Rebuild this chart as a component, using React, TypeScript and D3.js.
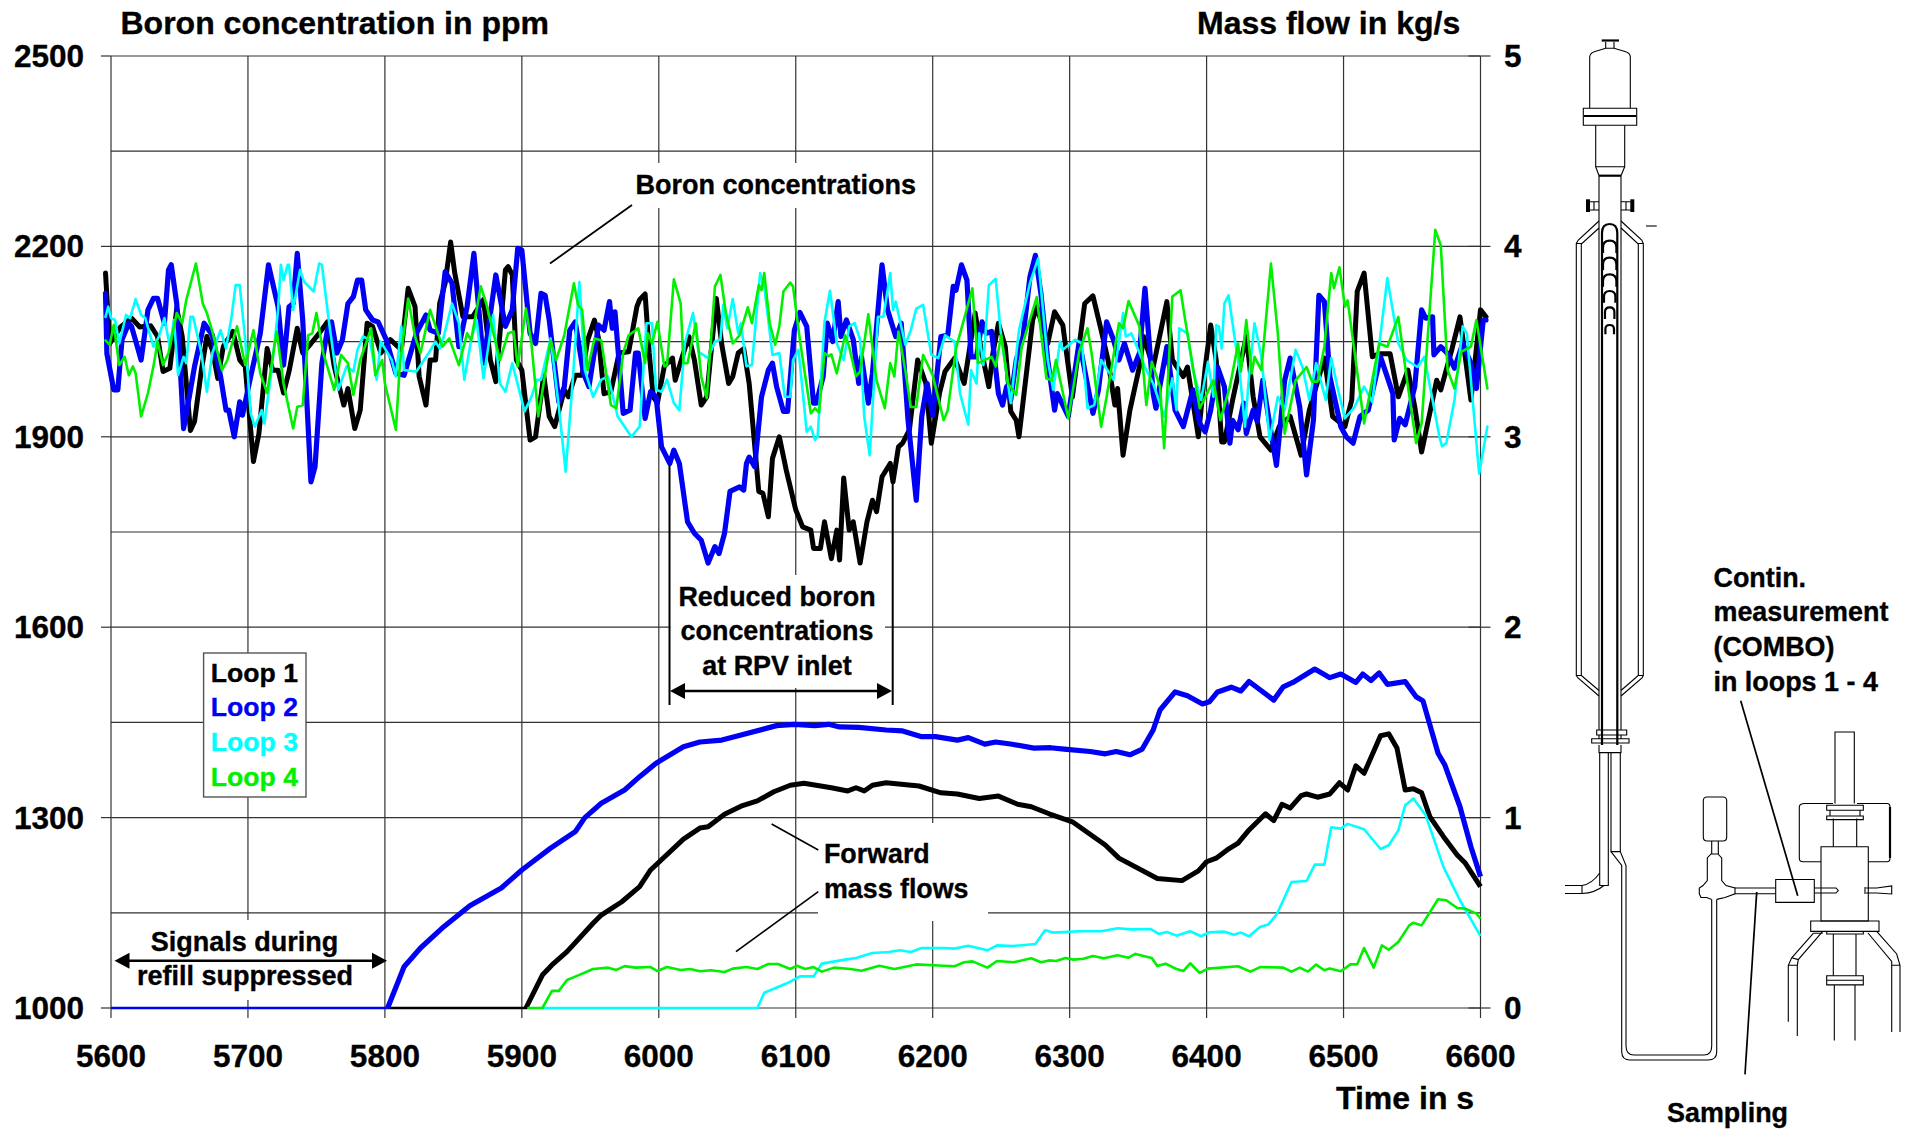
import { useEffect, useRef } from 'react';
import * as d3 from 'd3';

type Pt = [number, number];

const WIDTH = 1912;
const HEIGHT = 1130;
const PLOT = { left: 111, right: 1480.5, top: 56, bottom: 1008 };

const timeTicks = [5600, 5700, 5800, 5900, 6000, 6100, 6200, 6300, 6400, 6500, 6600];
const boronTicks = [1000, 1300, 1600, 1900, 2200, 2500];
const boronGrid = [1000, 1150, 1300, 1450, 1600, 1750, 1900, 2050, 2200, 2350, 2500];
const flowTicks = [0, 1, 2, 3, 4, 5];
const loopNames = ['Loop 1', 'Loop 2', 'Loop 3', 'Loop 4'];
const loopColors = ['#000000', '#0000f5', '#00ffff', '#00f000'];
const loopWidths = [5, 5.2, 2.6, 2.6];

// boron concentration, [time s, ppm]
const boron1: Pt[] = [[5596,2158],[5599,2047],[5607,2073],[5615,2087],[5621,2073],[5629,2075],[5634,2058],[5638,2003],[5643,2008],[5648,2102],[5652,2058],[5658,1910],[5661,1924],[5666,2005],[5670,2058],[5674,2037],[5678,1992],[5682,2042],[5689,2066],[5694,2021],[5698,2011],[5704,1861],[5708,1905],[5714,2039],[5718,2005],[5722,2005],[5726,1969],[5730,2003],[5736,2071],[5740,2032],[5746,2047],[5752,2063],[5758,2081],[5763,2011],[5770,1950],[5773,1976],[5778,1913],[5782,1942],[5787,2079],[5791,2074],[5797,2032],[5804,2053],[5808,2045],[5812,2037],[5817,2134],[5822,2105],[5825,1995],[5830,1950],[5833,2021],[5837,2021],[5840,2110],[5844,2142],[5848,2207],[5851,2158],[5857,2089],[5864,2089],[5872,2116],[5877,2021],[5881,1987],[5888,2163],[5890,2168],[5893,2155],[5896,2021],[5900,2005],[5906,1895],[5910,1900],[5916,1997],[5920,1932],[5924,1916],[5931,1974],[5934,1963],[5939,1997],[5944,1997],[5948,2052],[5953,2084],[5956,2055],[5960,1968],[5965,1971],[5971,2032],[5978,2034],[5984,2105],[5986,2116],[5990,2125],[5993,2032],[5996,1963],[5999,1953],[6004,2011],[6010,2024],[6012,1989],[6018,2032],[6022,2058],[6026,2021],[6031,1950],[6035,1963],[6042,2118],[6046,2045],[6051,1984],[6054,1995],[6058,2032],[6062,2039],[6066,1984],[6073,1814],[6076,1811],[6080,1774],[6083,1866],[6088,1900],[6093,1848],[6100,1785],[6105,1758],[6111,1753],[6113,1724],[6118,1724],[6121,1766],[6126,1708],[6130,1753],[6132,1706],[6135,1835],[6139,1753],[6142,1766],[6147,1701],[6152,1766],[6156,1800],[6159,1782],[6163,1837],[6169,1858],[6171,1829],[6175,1884],[6178,1890],[6183,1911],[6189,2021],[6195,1984],[6199,1890],[6205,1969],[6209,2003],[6216,2024],[6223,1984],[6231,2095],[6235,2042],[6241,1979],[6244,2032],[6248,2079],[6253,2042],[6257,1940],[6261,1926],[6263,1900],[6273,2084],[6276,2105],[6284,2047],[6289,2097],[6295,2076],[6302,1963],[6311,2110],[6317,2122],[6323,2068],[6328,2021],[6333,1950],[6335,1976],[6339,1871],[6344,1942],[6351,2011],[6354,2058],[6361,2010],[6371,2113],[6375,2021],[6383,1995],[6386,2010],[6394,1900],[6399,2010],[6403,2076],[6407,2021],[6411,1892],[6413,1892],[6419,1958],[6429,2058],[6434,1963],[6439,1900],[6447,1879],[6453,1916],[6461,1932],[6469,1871],[6475,1942],[6486,2024],[6492,1932],[6501,1916],[6506,1958],[6510,2129],[6515,2158],[6521,2026],[6526,2031],[6534,2031],[6540,1963],[6547,2005],[6552,1947],[6557,1876],[6568,1989],[6571,1974],[6579,2037],[6585,2089],[6593,1958],[6600,2100],[6604,2089]];
const boron2: Pt[] = [[5596,2126],[5597,2031],[5602,1974],[5605,1974],[5608,2053],[5613,2079],[5615,2074],[5622,2021],[5627,2100],[5631,2118],[5634,2118],[5639,2079],[5642,2163],[5644,2171],[5648,2110],[5653,1913],[5657,1961],[5661,2011],[5668,2079],[5674,2060],[5680,1995],[5684,1942],[5686,1942],[5690,1900],[5694,1955],[5696,1934],[5702,1995],[5709,2063],[5715,2171],[5722,2105],[5726,2013],[5730,2105],[5733,2110],[5736,2189],[5740,2084],[5746,1829],[5749,1853],[5754,2016],[5758,2068],[5761,2081],[5765,2032],[5769,2053],[5773,2110],[5777,2121],[5780,2147],[5783,2147],[5786,2100],[5791,2084],[5795,2081],[5801,2053],[5808,2000],[5814,1997],[5823,2063],[5830,2092],[5833,2068],[5839,2063],[5844,2160],[5849,2142],[5854,2042],[5860,2105],[5865,2189],[5872,2016],[5881,2155],[5888,2074],[5893,2100],[5897,2197],[5900,2194],[5906,2063],[5910,2047],[5914,2126],[5917,2123],[5920,2084],[5927,1955],[5931,1979],[5935,2068],[5939,2081],[5945,2000],[5949,1979],[5956,2076],[5960,2068],[5964,2113],[5966,2071],[5968,2097],[5974,1937],[5979,1942],[5983,2032],[5985,2032],[5990,1929],[5994,1971],[5998,1963],[6002,1884],[6008,1858],[6011,1879],[6015,1858],[6021,1766],[6026,1748],[6031,1737],[6036,1701],[6041,1727],[6044,1716],[6048,1748],[6052,1814],[6059,1821],[6062,1816],[6064,1858],[6066,1868],[6070,1853],[6075,1963],[6080,2005],[6083,2016],[6086,1979],[6091,1940],[6094,1940],[6099,2068],[6103,2096],[6108,2074],[6113,1953],[6115,1953],[6120,1995],[6123,2079],[6127,2050],[6131,2113],[6133,2058],[6137,2084],[6142,2053],[6146,1984],[6148,2026],[6153,1953],[6156,2000],[6163,2171],[6167,2100],[6173,2058],[6177,2079],[6182,1926],[6188,1800],[6192,1932],[6196,1984],[6200,1934],[6206,2058],[6211,2060],[6215,2137],[6217,2131],[6221,2171],[6225,2147],[6228,2026],[6232,2026],[6236,2081],[6239,2063],[6243,2066],[6248,1968],[6251,1950],[6254,1979],[6257,1958],[6261,2021],[6266,2058],[6271,2152],[6275,2186],[6279,2126],[6284,2021],[6289,1942],[6291,1968],[6299,1932],[6307,2050],[6317,1937],[6321,1974],[6327,2081],[6332,2053],[6336,2021],[6340,2047],[6346,2005],[6351,2032],[6355,2134],[6361,1968],[6363,1945],[6371,2042],[6377,1942],[6383,1916],[6390,1974],[6395,1921],[6399,1908],[6403,1942],[6408,2010],[6413,1979],[6417,1890],[6419,1926],[6423,1911],[6427,1953],[6429,1905],[6434,1942],[6437,1924],[6441,1989],[6446,1921],[6451,1855],[6457,1989],[6461,2024],[6468,1947],[6473,1840],[6478,1926],[6482,2123],[6486,2113],[6490,1995],[6498,1916],[6502,1900],[6507,1890],[6512,1932],[6518,1942],[6527,2026],[6536,1968],[6537,1895],[6541,1929],[6545,1919],[6552,1979],[6557,2100],[6560,2087],[6565,2089],[6566,2029],[6571,2042],[6576,2031],[6581,2008],[6587,2047],[6593,2016],[6597,1976],[6602,2084],[6604,2084]];
const boron3: Pt[] = [[5596,2089],[5598,2105],[5600,2087],[5603,2084],[5606,2047],[5611,2092],[5614,2087],[5618,2117],[5622,2092],[5625,2087],[5631,2042],[5635,2058],[5639,2087],[5643,2042],[5646,2084],[5649,1997],[5653,2026],[5655,2016],[5658,2089],[5660,2089],[5666,2032],[5670,1971],[5674,2032],[5680,2068],[5684,2039],[5688,2089],[5691,2139],[5694,2139],[5698,2053],[5702,1937],[5705,1916],[5710,1942],[5712,1921],[5717,2000],[5722,2100],[5724,2171],[5726,2147],[5729,2171],[5730,2171],[5733,2100],[5738,2163],[5741,2144],[5748,2129],[5752,2173],[5754,2171],[5759,2084],[5763,2021],[5766,1974],[5772,2011],[5777,2003],[5780,2037],[5784,2058],[5789,2053],[5794,1990],[5797,2050],[5805,2021],[5808,1995],[5812,2074],[5814,2005],[5823,2003],[5832,2032],[5837,2050],[5840,2039],[5843,2058],[5849,2110],[5854,2079],[5858,1990],[5863,2053],[5867,2084],[5872,1992],[5879,2092],[5884,1984],[5888,1971],[5893,2016],[5902,1940],[5907,1963],[5911,1990],[5914,1990],[5921,2055],[5927,1947],[5932,1845],[5937,1984],[5942,2144],[5946,2005],[5952,1963],[5958,1990],[5963,1995],[5970,1932],[5980,1900],[5986,1916],[5991,2079],[5995,2079],[5998,1974],[6002,1971],[6006,1990],[6011,1953],[6015,1942],[6019,2047],[6025,2095],[6029,2034],[6036,2024],[6041,2050],[6045,2053],[6047,2108],[6050,2071],[6054,2117],[6058,2063],[6060,2079],[6064,2011],[6068,2013],[6074,2158],[6077,2137],[6083,2029],[6088,2032],[6092,1963],[6096,1963],[6098,2021],[6102,2037],[6108,1908],[6111,1916],[6114,1895],[6116,1900],[6121,2081],[6125,2130],[6130,2047],[6135,2021],[6139,2074],[6143,2079],[6147,2053],[6150,1932],[6154,1871],[6160,2089],[6164,2089],[6169,2158],[6171,2100],[6173,2113],[6180,2045],[6184,2068],[6188,2102],[6193,2108],[6199,2029],[6204,2024],[6209,2060],[6216,2050],[6220,1968],[6226,1919],[6228,2005],[6232,1984],[6234,2063],[6237,2013],[6241,2139],[6246,2149],[6250,2058],[6257,1953],[6263,2068],[6271,2142],[6277,2181],[6284,2021],[6288,1974],[6293,2050],[6295,2037],[6304,2053],[6309,2047],[6313,1945],[6318,1950],[6323,2021],[6332,1990],[6339,2095],[6341,2058],[6345,2063],[6351,2032],[6356,2005],[6361,1984],[6369,1932],[6375,1992],[6378,1942],[6380,2071],[6386,2063],[6390,2005],[6396,1958],[6401,2018],[6405,1963],[6407,2076],[6409,2074],[6411,2039],[6413,2110],[6416,2123],[6420,2063],[6424,2005],[6428,1916],[6431,1995],[6435,2079],[6440,2026],[6446,1895],[6452,1963],[6457,1942],[6465,2037],[6470,2010],[6475,1958],[6480,2016],[6487,1958],[6491,2024],[6496,1974],[6501,1929],[6508,1947],[6515,1979],[6521,1955],[6532,2150],[6540,2047],[6546,2021],[6554,2010],[6559,2026],[6565,1958],[6570,1900],[6572,1885],[6575,1890],[6581,1958],[6587,2074],[6590,2063],[6599,1842],[6605,1916]];
const boron4: Pt[] = [[5596,2052],[5599,2045],[5602,2076],[5606,2013],[5610,2026],[5613,1997],[5616,2011],[5618,2000],[5622,1932],[5627,1969],[5631,2011],[5634,2050],[5638,2013],[5642,2032],[5648,2095],[5652,2079],[5655,2116],[5662,2173],[5667,2110],[5670,2095],[5674,2066],[5681,2005],[5685,2021],[5692,2074],[5698,2013],[5704,2068],[5709,2000],[5714,1969],[5721,2066],[5726,1984],[5733,1913],[5736,1947],[5740,1950],[5744,2060],[5747,2063],[5750,2095],[5755,2032],[5763,1974],[5768,2029],[5773,2016],[5777,1966],[5782,2021],[5790,2071],[5793,1997],[5798,2021],[5800,1984],[5808,1911],[5811,2016],[5817,2118],[5822,2058],[5826,2032],[5833,2100],[5842,2042],[5847,2055],[5854,2013],[5860,2063],[5863,2052],[5870,2137],[5874,2110],[5884,2021],[5890,2063],[5894,2066],[5897,2011],[5903,2102],[5907,2047],[5912,1932],[5921,2052],[5925,2021],[5931,2060],[5938,2142],[5941,2108],[5944,2100],[5948,2005],[5953,2055],[5958,2052],[5965,1950],[5969,1945],[5974,2032],[5978,2060],[5985,2071],[5990,2016],[5992,2063],[5995,2047],[5999,2081],[6004,2011],[6006,2013],[6011,2148],[6016,2110],[6018,2016],[6021,2016],[6027,2079],[6031,1995],[6035,1961],[6041,2137],[6045,2155],[6049,2095],[6054,2047],[6059,2060],[6065,2104],[6068,2079],[6073,2139],[6075,2131],[6077,2158],[6081,2079],[6085,2045],[6088,2074],[6091,2129],[6096,2143],[6098,2137],[6103,2053],[6111,1937],[6114,1945],[6117,1938],[6121,2032],[6124,2027],[6126,2030],[6130,2000],[6136,2060],[6139,2042],[6144,1995],[6147,2003],[6153,2093],[6159,1989],[6165,1945],[6169,2016],[6172,1995],[6175,2066],[6180,2005],[6184,1947],[6188,1947],[6193,2029],[6200,1997],[6208,1926],[6211,1942],[6217,2039],[6229,2134],[6233,2016],[6243,2026],[6246,2011],[6250,2060],[6255,1984],[6261,1966],[6265,2042],[6276,2120],[6283,1992],[6287,1989],[6290,2021],[6299,1929],[6307,2034],[6313,2071],[6316,2032],[6323,1916],[6327,1963],[6336,2079],[6339,2071],[6343,2114],[6351,2074],[6356,1950],[6360,2018],[6366,1979],[6369,1882],[6375,2121],[6381,2131],[6384,2089],[6388,2037],[6395,1945],[6405,1989],[6410,1926],[6417,1979],[6423,2047],[6425,2003],[6429,2084],[6433,2000],[6435,2026],[6440,2005],[6447,2173],[6452,2063],[6457,1905],[6465,1989],[6473,2010],[6477,1987],[6481,1987],[6486,2042],[6491,2158],[6493,2134],[6497,2167],[6501,2105],[6503,2115],[6515,1921],[6526,2047],[6532,2042],[6540,2089],[6546,1995],[6553,1890],[6557,1921],[6567,2226],[6571,2202],[6576,2005],[6581,1976],[6586,2034],[6593,2042],[6597,2084],[6605,1976]];

// forward mass flow, [time s, kg/s], from where each loop leaves zero
const flow1: Pt[] = [[5903,0],[5915,0.173],[5922,0.226],[5933,0.296],[5952,0.445],[5958,0.488],[5973,0.558],[5986,0.637],[5994,0.725],[6018,0.887],[6030,0.945],[6036,0.952],[6048,1.018],[6060,1.06],[6072,1.088],[6084,1.136],[6096,1.17],[6106,1.18],[6126,1.157],[6138,1.14],[6144,1.157],[6150,1.14],[6156,1.17],[6166,1.183],[6190,1.166],[6206,1.13],[6218,1.124],[6234,1.1],[6248,1.113],[6262,1.07],[6272,1.057],[6285,1.02],[6302,0.978],[6326,0.856],[6336,0.787],[6364,0.68],[6382,0.669],[6394,0.72],[6400,0.768],[6407,0.787],[6415,0.83],[6423,0.866],[6431,0.935],[6443,1.02],[6449,0.984],[6455,1.07],[6461,1.05],[6469,1.115],[6473,1.124],[6481,1.107],[6490,1.124],[6497,1.183],[6503,1.145],[6509,1.272],[6515,1.233],[6527,1.43],[6533,1.44],[6539,1.365],[6545,1.145],[6551,1.152],[6557,1.13],[6563,1.005],[6573,0.9],[6583,0.804],[6589,0.76],[6600,0.637]];
const flow2: Pt[] = [[5802,0],[5814,0.217],[5826,0.315],[5843,0.427],[5862,0.537],[5885,0.63],[5900,0.725],[5921,0.84],[5939,0.926],[5946,1.0],[5958,1.075],[5975,1.145],[5986,1.215],[5998,1.286],[6018,1.372],[6030,1.397],[6046,1.407],[6058,1.43],[6086,1.483],[6099,1.49],[6114,1.483],[6124,1.49],[6132,1.476],[6146,1.474],[6166,1.46],[6178,1.455],[6192,1.425],[6202,1.425],[6218,1.407],[6226,1.42],[6238,1.386],[6246,1.397],[6258,1.385],[6274,1.365],[6286,1.367],[6296,1.36],[6315,1.347],[6326,1.335],[6334,1.347],[6344,1.33],[6353,1.36],[6361,1.46],[6366,1.565],[6377,1.66],[6386,1.64],[6397,1.597],[6402,1.608],[6408,1.66],[6418,1.685],[6425,1.665],[6431,1.715],[6449,1.617],[6456,1.687],[6463,1.71],[6479,1.78],[6490,1.735],[6498,1.754],[6509,1.71],[6514,1.754],[6520,1.72],[6526,1.76],[6532,1.7],[6545,1.714],[6553,1.635],[6558,1.613],[6569,1.338],[6574,1.276],[6585,1.057],[6593,0.847],[6600,0.69]];
const flow3: Pt[] = [[5915,0],[6072,0],[6077,0.08],[6094,0.131],[6103,0.166],[6113,0.166],[6119,0.233],[6136,0.254],[6144,0.263],[6156,0.289],[6168,0.294],[6176,0.303],[6184,0.294],[6192,0.315],[6208,0.315],[6216,0.312],[6226,0.327],[6240,0.303],[6247,0.329],[6259,0.326],[6275,0.336],[6282,0.408],[6288,0.396],[6307,0.403],[6323,0.403],[6335,0.419],[6345,0.413],[6359,0.415],[6365,0.389],[6371,0.399],[6378,0.38],[6388,0.403],[6396,0.377],[6402,0.398],[6413,0.401],[6420,0.385],[6425,0.396],[6431,0.377],[6439,0.426],[6445,0.438],[6451,0.49],[6456,0.566],[6462,0.662],[6473,0.667],[6479,0.753],[6486,0.753],[6491,0.949],[6498,0.942],[6503,0.967],[6515,0.939],[6527,0.835],[6533,0.855],[6540,0.933],[6545,1.065],[6551,1.1],[6560,1.012],[6573,0.74],[6585,0.566],[6600,0.378]];
const flow4: Pt[] = [[5904,0],[5915,0],[5922,0.09],[5927,0.09],[5933,0.147],[5939,0.165],[5952,0.205],[5963,0.212],[5969,0.2],[5975,0.22],[5983,0.212],[5994,0.215],[5999,0.194],[6006,0.215],[6016,0.2],[6023,0.205],[6030,0.193],[6038,0.198],[6048,0.189],[6054,0.207],[6064,0.215],[6072,0.205],[6080,0.231],[6087,0.231],[6096,0.205],[6101,0.222],[6107,0.205],[6113,0.215],[6119,0.191],[6128,0.212],[6140,0.205],[6148,0.196],[6161,0.222],[6172,0.205],[6188,0.229],[6208,0.222],[6216,0.219],[6223,0.24],[6229,0.245],[6240,0.212],[6247,0.247],[6259,0.24],[6272,0.261],[6279,0.24],[6285,0.25],[6290,0.247],[6297,0.263],[6303,0.254],[6310,0.259],[6317,0.273],[6325,0.261],[6335,0.277],[6343,0.264],[6348,0.284],[6360,0.263],[6364,0.221],[6370,0.233],[6378,0.205],[6383,0.194],[6388,0.235],[6395,0.184],[6401,0.207],[6423,0.219],[6432,0.191],[6439,0.215],[6456,0.212],[6462,0.191],[6468,0.212],[6474,0.191],[6480,0.228],[6486,0.198],[6490,0.208],[6498,0.193],[6505,0.229],[6510,0.23],[6515,0.315],[6522,0.212],[6528,0.329],[6533,0.306],[6540,0.347],[6548,0.434],[6551,0.448],[6557,0.434],[6569,0.571],[6575,0.566],[6583,0.525],[6589,0.522],[6597,0.496],[6600,0.469]];

// suppressed part at zero, drawn thin: [from s, to s, loop index]
const suppressedSpans: [number, number, number][] = [
  [5600, 5802, 1],
  [5802, 5904, 0],
];

const boronSeries = [boron1, boron2, boron3, boron4];
const flowSeries = [flow1, flow2, flow3, flow4];

// rig sketch on the right, plain drawing coordinates
const rigThin = [
  'M1589.7,108 V57 Q1590,53 1595,51.5 L1605.7,48.3 H1614 L1625,51.5 Q1630.3,53 1630.3,57 V108',
  'M1605.7,42 V48 M1614,42 V48',
  'M1583.3,108.3 H1636.7 V125.3 H1583.3 Z',
  'M1595.7,125.3 V166.7 H1624.7 V125.3 M1595.7,166.7 L1599,175.7 M1624.7,166.7 L1621,175.7',
  'M1599,175.7 V730 M1621,175.7 V730',
  'M1589.3,201.7 H1599 M1589.3,210 H1599 M1621,201.7 H1630.7 M1621,210 H1630.7 M1594,201.7 V210 M1626,201.7 V210',
  'M1599,221 L1578.3,240 L1576.3,243.5 V675.5 L1578,678 L1599,696 M1599,228 L1581.3,244 V675.5 L1599,690.5 M1576.3,243.5 H1581.3 M1576.3,675.5 H1581.3',
  'M1621,221 L1641.7,240 L1643.3,243.5 V675.5 L1642,678 L1621,696 M1621,228 L1638.3,244 V675.5 L1621,690.5 M1638.3,243.5 H1643.3 M1638.3,675.5 H1643.3',
  'M1646,226 H1656.7',
  'M1596.7,730 H1626.7 V735 H1596.7 Z M1591.7,738.7 H1629 V743 H1591.7 Z M1599,735 V738.7 M1621,735 V738.7',
  'M1599,745 V752.6 H1621 V745',
  'M1599.7,752.6 V885.5 H1608.3 V752.6',
  'M1565,885.5 H1582 Q1592,884 1599.7,873 M1565,893.5 H1582 Q1595,893 1604,885.5 M1582,885.5 V893.5',
  'M1611,752.6 V851.6 H1620.3 V752.6',
  'M1611,851.6 L1621.7,865.5 V1052 Q1622,1060 1630,1060 H1708 Q1716.7,1060 1716.7,1052 V899.4',
  'M1620.3,851.6 L1626,865.5 V1046 Q1626,1055 1634,1055 H1704 Q1711.7,1055 1711.7,1046 V899.4',
  'M1703.3,801 Q1703.3,797 1707,797 H1723 Q1726.7,797 1726.7,801 V837 Q1726.7,841 1723,841 H1707 Q1703.3,841 1703.3,837 Z',
  'M1711.7,841 V854 M1718.3,841 V854',
  'M1711.7,899.4 L1706.7,897.5 H1701 L1699.3,893.8 V888 L1703,885.5 L1707.3,880.6 V858 L1711,854 H1718 L1721.7,858 V880.6 L1726,885.5 L1735,888 V893.8 L1725,897.5 L1716.7,899.4',
  'M1735,888 H1775.7 M1735,893.8 H1775.7',
  'M1775.7,879.5 H1814.3 V902.4 H1775.7 Z',
  'M1814.3,888 H1836 L1838.3,890.5 L1836,893 H1814.3',
  'M1821,846.7 H1868.3 V921 H1821 Z',
  'M1835,803.5 V732 H1854.3 V803.5',
  'M1833.3,818.5 V846.7 M1856.7,818.5 V846.7',
  'M1826.7,805.3 H1863.3 V810.2 H1826.7 Z M1826.7,816 H1863.3 V819.6 H1826.7 Z M1830,810.2 V816 M1860,810.2 V816',
  'M1805,803.5 H1833 M1857,803.5 H1887 Q1890,803.5 1890,807 V858 Q1890,861.8 1887,861.8 H1868.3 M1821,861.8 H1803 Q1799.3,861.8 1799.3,858 V807 Q1799.3,803.5 1805,803.5',
  'M1866,888 H1876.7 L1891.7,886 V894 L1876.7,893 H1866 M1865,887 V894',
  'M1810.7,921 H1879 V931.4 H1810.7 Z',
  'M1826.7,931.4 V934 H1863.3 V931.4',
  'M1833.3,934 V975.8 M1856,934 V975.8',
  'M1826.7,975.8 H1863.3 V984.9 H1826.7 Z M1826.7,980.3 H1863.3',
  'M1834.3,984.9 V1040.6 M1855,984.9 V1040.6',
  'M1813.3,933.3 L1791.7,957.8 L1788.3,965.3 V1021.7 M1822.7,931.4 L1798.3,959.6 L1797.3,965.3 V1036 M1788.3,965.3 H1797.3 M1791.7,957.8 L1798.3,959.6 M1813.3,933.3 H1822.7',
  'M1876.7,931.4 L1896.7,954 L1900,965.3 V1032 M1868,933 L1891.7,961.5 V1032 M1891.7,965.3 H1900',
];
const rigThick = [
  'M1601.7,40.5 H1619',
  'M1584,116 H1636',
  'M1599,175.7 H1621',
  'M1602,745 V233 Q1602,224 1609.7,224 Q1617.3,224 1617.3,233 V745',
  'M1890,807 V858',
];
const rigKnobs = ['M1588,199.3 V212', 'M1632.3,199.3 V212'];
// the small arches inside the upper plenum: [half width, top y, bottom y]
const arches: [number, number, number][] = [
  [6.7, 240.7, 253],
  [6.7, 257.7, 270],
  [6.7, 274.3, 286.7],
  [5.7, 291, 302.7],
  [4.7, 307.3, 319],
  [4.3, 325, 334.3],
];

const BOLD = 'bold';
const TEXT_WEIGHT = 0.35; // the labels in the picture are a touch heavier than the plain bold

const App = () => {
  const xAxisRef = useRef<SVGGElement>(null);
  const leftAxisRef = useRef<SVGGElement>(null);
  const rightAxisRef = useRef<SVGGElement>(null);

  const xScale = d3.scaleLinear().domain([5600, 6600]).range([PLOT.left, PLOT.right]);
  const boronScale = d3.scaleLinear().domain([1000, 2500]).range([PLOT.bottom, PLOT.top]);
  const flowScale = d3.scaleLinear().domain([0, 5]).range([PLOT.bottom, PLOT.top]);

  const boronLine = d3.line<Pt>().x((d) => xScale(d[0])).y((d) => boronScale(d[1]));
  const flowLine = d3.line<Pt>().x((d) => xScale(d[0])).y((d) => flowScale(d[1]));

  useEffect(() => {
    const style = (sel: any, size: number) => {
      sel.select('.domain').remove();
      sel.attr('font-family', '"Liberation Sans", Arial, sans-serif')
        .attr('font-size', size)
        .attr('font-weight', BOLD);
      sel.selectAll('line').attr('stroke', '#333').attr('stroke-width', 1.2);
      sel.selectAll('text').attr('fill', '#000').attr('stroke', '#000').attr('stroke-width', TEXT_WEIGHT);
    };
    const xAxis = d3.axisBottom(xScale).tickValues(timeTicks).tickFormat(d3.format('d') as any)
      .tickSize(10).tickPadding(26.5).offset(0);
    style(d3.select(xAxisRef.current).call(xAxis as any), 31.5);
    const leftAxis = d3.axisLeft(boronScale).tickValues(boronTicks).tickFormat(d3.format('d') as any)
      .tickSize(10).tickPadding(17).offset(0);
    style(d3.select(leftAxisRef.current).call(leftAxis as any), 31.5);
    d3.select(leftAxisRef.current).selectAll('text').attr('dy', '0.35em');
    const rightAxis = d3.axisRight(flowScale).tickValues(flowTicks).tickFormat(d3.format('d') as any)
      .tickSize(10).tickPadding(13.5).offset(0);
    style(d3.select(rightAxisRef.current).call(rightAxis as any), 31.5);
    d3.select(rightAxisRef.current).selectAll('text').attr('dy', '0.35em');
  }, []);

  const arrow = (x1: number, x2: number, y: number) => (
    <g>
      <line x1={x1 + 10} x2={x2 - 10} y1={y} y2={y} stroke="#000" strokeWidth={2.6} />
      <path d={`M${x1},${y} L${x1 + 15},${y - 8} V${y + 8} Z`} fill="#000" />
      <path d={`M${x2},${y} L${x2 - 15},${y - 8} V${y + 8} Z`} fill="#000" />
    </g>
  );

  return (
    <svg
      width={WIDTH}
      height={HEIGHT}
      style={{ position: 'absolute', left: 0, top: 0, background: '#fff' }}
      fontFamily='"Liberation Sans", Arial, sans-serif'
      fontWeight={BOLD}
    >
      {/* grid */}
      <g stroke="#333" strokeWidth={1.2}>
        {timeTicks.map((t) => (
          <line key={t} x1={xScale(t)} x2={xScale(t)} y1={PLOT.top} y2={PLOT.bottom} />
        ))}
        {boronGrid.map((b) => (
          <line key={b} x1={PLOT.left} x2={PLOT.right} y1={boronScale(b)} y2={boronScale(b)} />
        ))}
        {flowTicks.map((f) => (
          <line key={f} x1={PLOT.right - 12} x2={PLOT.right} y1={flowScale(f)} y2={flowScale(f)} />
        ))}
      </g>
      <g ref={xAxisRef} transform={`translate(0,${PLOT.bottom})`} />
      <g ref={leftAxisRef} transform={`translate(${PLOT.left},0)`} />
      <g ref={rightAxisRef} transform={`translate(${PLOT.right},0)`} />

      {/* white patches behind the annotations */}
      <g fill="#fff">
        <rect x={632} y={163} width={286} height={45} />
        <rect x={670.5} y={575} width={214.5} height={113} />
        <rect x={818} y={823} width={170} height={98} />
        <rect x={135} y={920} width={220} height={80} />
      </g>

      {/* series, loop 1 at the bottom */}
      <g fill="none" strokeLinejoin="round">
        {boronSeries.map((s, i) => (
          <path key={i} d={boronLine(s) || ''} stroke={loopColors[i]} strokeWidth={loopWidths[i]} strokeLinecap="round" />
        ))}
        {suppressedSpans.map(([from, to, loop]) => (
          <path
            key={from}
            d={flowLine([[from, 0], [to, 0]]) || ''}
            stroke={loopColors[loop]}
            strokeWidth={2.6}
          />
        ))}
        {flowSeries.map((s, i) => (
          <path key={i} d={flowLine(s) || ''} stroke={loopColors[i]} strokeWidth={loopWidths[i]} />
        ))}
      </g>

      {/* titles */}
      <g stroke="#000" strokeWidth={TEXT_WEIGHT}>
        <text x={120.5} y={34} fontSize={32}>Boron concentration in ppm</text>
        <text x={1197} y={34} fontSize={32}>Mass flow in kg/s</text>
        <text x={1336} y={1109} fontSize={32}>Time in s</text>
      </g>

      {/* legend */}
      <rect x={203.6} y={653} width={102.4} height={144} fill="#fff" stroke="#555" strokeWidth={1.4} />
      {loopNames.map((name, i) => (
        <text key={name} x={210.8} y={681.7 + i * 34.7} fontSize={26.6} fill={loopColors[i]} stroke={loopColors[i]} strokeWidth={TEXT_WEIGHT}>{name}</text>
      ))}

      {/* annotations */}
      <text x={635.5} y={194.3} fontSize={27} stroke="#000" strokeWidth={TEXT_WEIGHT}>Boron concentrations</text>
      <line x1={632} y1={205} x2={550} y2={263.5} stroke="#000" strokeWidth={1.8} />

      <line x1={669.5} x2={669.5} y1={465} y2={705} stroke="#000" strokeWidth={2} />
      <line x1={892.7} x2={892.7} y1={483} y2={705} stroke="#000" strokeWidth={2} />
      {arrow(670, 892, 691)}
      <g fontSize={26.9} textAnchor="middle" stroke="#000" strokeWidth={TEXT_WEIGHT}>
        <text x={777} y={606}>Reduced boron</text>
        <text x={777} y={640.3}>concentrations</text>
        <text x={777} y={675}>at RPV inlet</text>
      </g>

      {arrow(114.5, 387, 960.7)}
      <g fontSize={27} textAnchor="middle" stroke="#000" strokeWidth={TEXT_WEIGHT}>
        <text x={244.6} y={951}>Signals during</text>
        <text x={245} y={985}>refill suppressed</text>
      </g>

      <g fontSize={26.8} stroke="#000" strokeWidth={TEXT_WEIGHT}>
        <text x={824} y={862.7}>Forward</text>
        <text x={824} y={897.7}>mass flows</text>
      </g>
      <line x1={771.6} y1={824} x2={818.3} y2={850} stroke="#000" strokeWidth={1.6} />
      <line x1={818.3} y1={891.7} x2={736} y2={951.7} stroke="#000" strokeWidth={1.6} />

      {/* rig sketch */}
      <g fill="none" stroke="#000" strokeWidth={1.1}>
        {rigThin.map((d, i) => <path key={i} d={d} />)}
      </g>
      <g fill="none" stroke="#000" strokeWidth={2.2}>
        {rigThick.map((d, i) => <path key={i} d={d} />)}
        {arches.map(([w, top, bottom], i) => (
          <path
            key={i}
            d={`M${1609.7 - w},${bottom} V${top + w} Q${1609.7 - w},${top} 1609.7,${top} Q${1609.7 + w},${top} ${1609.7 + w},${top + w} V${bottom}`}
          />
        ))}
      </g>
      <g fill="none" stroke="#000" strokeWidth={4}>
        {rigKnobs.map((d, i) => <path key={i} d={d} />)}
      </g>
      <g fontSize={26.9} stroke="#000" strokeWidth={TEXT_WEIGHT}>
        <text x={1713.5} y={586.5}>Contin.</text>
        <text x={1713.5} y={621}>measurement</text>
        <text x={1713.5} y={656}>(COMBO)</text>
        <text x={1713.5} y={690.5}>in loops 1 - 4</text>
        <text x={1667} y={1121.5}>Sampling</text>
      </g>
      <line x1={1740.7} y1={700.7} x2={1797.7} y2={895.7} stroke="#000" strokeWidth={1.7} />
      <line x1={1756.7} y1={892} x2={1745} y2={1074.4} stroke="#000" strokeWidth={1.7} />
    </svg>
  );
};

export default App;
